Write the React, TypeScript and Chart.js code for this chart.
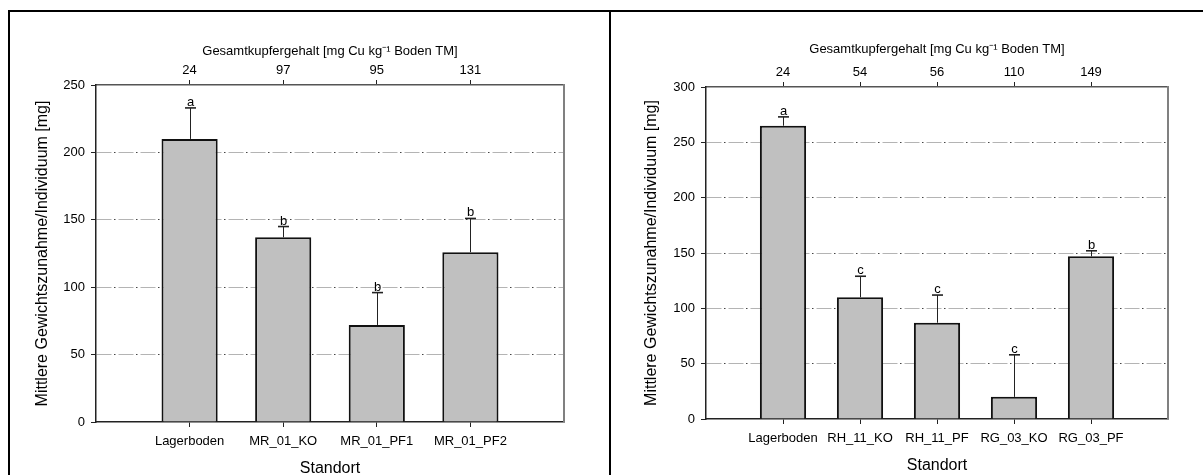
import React, { useEffect, useRef } from 'react';
import { Chart, registerables } from 'chart.js';

Chart.register(...registerables);

const FONT = "'Liberation Sans', Arial, Helvetica, sans-serif";

// ---- data: left panel ----
const leftCategories = ['Lagerboden', 'MR_01_KO', 'MR_01_PF1', 'MR_01_PF2'];
const leftCopper = ['24', '97', '95', '131'];
const leftMeans = [210, 137, 72, 126];
const leftErrors = [23, 8, 24, 25];
const leftLetters = ['a', 'b', 'b', 'b'];
const leftYMax = 250;

// ---- data: right panel ----
const rightCategories = ['Lagerboden', 'RH_11_KO', 'RH_11_PF', 'RG_03_KO', 'RG_03_PF'];
const rightCopper = ['24', '54', '56', '110', '149'];
const rightMeans = [265, 110, 87, 20, 147];
const rightErrors = [8, 19, 25, 38, 5];
const rightLetters = ['a', 'c', 'c', 'c', 'b'];
const rightYMax = 300;

const yTickStep = 50;
const yTitle = 'Mittlere Gewichtszunahme/Individuum [mg]';
const xTitle = 'Standort';
const topTitle = 'Gesamtkupfergehalt [mg Cu kg\u207B\u00B9 Boden TM]';

interface PanelData {
  categories: string[];
  copper: string[];
  means: number[];
  errors: number[];
  letters: string[];
  yMax: number;
}

interface PanelLayout {
  left: number;
  top: number;
  width: number;
  height: number;
  plotLeft: number;
  plotTop: number;
  bottomH: number;
  padRight: number;
  yTitlePad: number;
  topTitlePad: number;
  bottomTitlePad: number;
}

function makeOverlayPlugin(d: PanelData) {
  return {
    id: 'errorBarsOverlay',
    afterDatasetsDraw(chart: any) {
      const { ctx, chartArea } = chart;
      const xs = chart.scales.x;
      const ys = chart.scales.y;
      ctx.save();
      // right frame of the plot
      ctx.strokeStyle = '#808080';
      ctx.lineWidth = 2;
      ctx.beginPath();
      ctx.moveTo(chartArea.right, chartArea.top - 1);
      ctx.lineTo(chartArea.right, chartArea.bottom);
      ctx.stroke();

      d.means.forEach((m, i) => {
        const px = Math.round(xs.getPixelForValue(i + 1)) + 0.5;
        const yBar = ys.getPixelForValue(m);
        const yErr = ys.getPixelForValue(m + d.errors[i]);
        ctx.strokeStyle = '#222';
        ctx.lineWidth = 1;
        ctx.beginPath();
        ctx.moveTo(px, yBar);
        ctx.lineTo(px, yErr);
        ctx.stroke();
        ctx.lineWidth = 1.6;
        ctx.beginPath();
        ctx.moveTo(px - 5.5, yErr);
        ctx.lineTo(px + 5.5, yErr);
        ctx.stroke();
        ctx.fillStyle = '#000';
        ctx.font = `13px ${FONT}`;
        ctx.textAlign = 'center';
        ctx.textBaseline = 'alphabetic';
        ctx.fillText(d.letters[i], px, yErr - 2);
      });
      ctx.restore();
    },
  };
}

function Panel({ d, l }: { d: PanelData; l: PanelLayout }) {
  const ref = useRef<HTMLCanvasElement>(null);
  useEffect(() => {
    const n = d.categories.length;
    const inRange = (c: any) => c.tick && c.tick.value >= 1 && c.tick.value <= n;
    const inner = (c: any) => c.tick && c.tick.value > 0 && c.tick.value < d.yMax;
    const tickFont = { family: FONT, size: 13 };
    const chart = new Chart(ref.current as HTMLCanvasElement, {
      type: 'bar',
      data: {
        datasets: [
          {
            data: d.means.map((v, i) => ({ x: i + 1, y: v })),
            backgroundColor: '#c0c0c0',
            borderColor: '#111',
            borderWidth: 2,
            barPercentage: 0.6,
            categoryPercentage: 1,
          },
        ],
      },
      options: {
        responsive: false,
        animation: false,
        devicePixelRatio: 1,
        layout: { padding: { left: 0, top: 0, right: l.padRight, bottom: 0 } },
        plugins: { legend: { display: false }, tooltip: { enabled: false } },
        scales: {
          x: {
            type: 'linear',
            position: 'bottom',
            min: 0,
            max: n + 1,
            offset: false,
            afterFit: (s: any) => {
              s.height = l.bottomH;
            },
            ticks: {
              stepSize: 1,
              autoSkip: false,
              maxRotation: 0,
              padding: 7,
              color: '#000',
              font: tickFont,
              callback: (v: any) => d.categories[v - 1] ?? '',
            },
            grid: {
              drawOnChartArea: false,
              offset: false,
              tickLength: 5,
              tickWidth: 1,
              tickColor: (c: any) => (inRange(c) ? '#222' : 'rgba(0,0,0,0)'),
            },
            border: { color: '#222', width: 1.5 },
            title: {
              display: true,
              text: xTitle,
              color: '#000',
              font: { family: FONT, size: 16 },
              padding: { top: 0, bottom: l.bottomTitlePad },
            },
          },
          xTop: {
            type: 'linear',
            position: 'top',
            min: 0,
            max: n + 1,
            offset: false,
            afterFit: (s: any) => {
              s.height = l.plotTop;
            },
            ticks: {
              stepSize: 1,
              autoSkip: false,
              maxRotation: 0,
              padding: 2,
              color: '#000',
              font: tickFont,
              callback: (v: any) => d.copper[v - 1] ?? '',
            },
            grid: {
              drawOnChartArea: false,
              offset: false,
              tickLength: 5,
              tickWidth: 1,
              tickColor: (c: any) => (inRange(c) ? '#222' : 'rgba(0,0,0,0)'),
            },
            border: { color: '#555', width: 1.5 },
            title: {
              display: true,
              text: topTitle,
              color: '#000',
              font: { family: FONT, size: 13 },
              padding: { top: l.topTitlePad, bottom: 0 },
            },
          },
          yDots: {
            type: 'linear',
            position: 'left',
            min: 0,
            max: d.yMax,
            afterFit: (s: any) => {
              s.width = 0;
            },
            ticks: { stepSize: yTickStep, display: false },
            grid: {
              color: (c: any) => (inner(c) ? '#444' : 'rgba(0,0,0,0)'),
              lineWidth: 1,
              drawTicks: false,
            },
            border: { display: false, dash: [1.5, 20.5], dashOffset: 4 },
          },
          y: {
            type: 'linear',
            position: 'left',
            min: 0,
            max: d.yMax,
            afterFit: (s: any) => {
              s.width = l.plotLeft;
            },
            ticks: { stepSize: yTickStep, padding: 6, color: '#000', font: tickFont },
            grid: {
              color: (c: any) => (inner(c) ? '#b4b4b4' : 'rgba(0,0,0,0)'),
              lineWidth: 1,
              tickLength: 5,
              tickWidth: 1,
              tickColor: '#222',
              tickBorderDash: [],
            },
            border: { color: '#222', width: 1.5, dash: [15, 7] },
            title: {
              display: true,
              text: yTitle,
              color: '#000',
              font: { family: FONT, size: 16 },
              padding: { top: l.yTitlePad, bottom: 0 },
            },
          },
        },
      } as any,
      plugins: [makeOverlayPlugin(d)],
    });
    return () => chart.destroy();
  }, []);
  return (
    <canvas
      ref={ref}
      width={l.width}
      height={l.height}
      style={{ position: 'absolute', left: l.left, top: l.top, width: l.width, height: l.height }}
    />
  );
}

const leftData: PanelData = {
  categories: leftCategories,
  copper: leftCopper,
  means: leftMeans,
  errors: leftErrors,
  letters: leftLetters,
  yMax: leftYMax,
};
const rightData: PanelData = {
  categories: rightCategories,
  copper: rightCopper,
  means: rightMeans,
  errors: rightErrors,
  letters: rightLetters,
  yMax: rightYMax,
};

const leftLayout: PanelLayout = {
  left: 10,
  top: 12,
  width: 599,
  height: 463,
  plotLeft: 86,
  plotTop: 73,
  bottomH: 53,
  padRight: 45,
  yTitlePad: 23.4,
  topTitlePad: 32,
  bottomTitlePad: -3,
};
const rightLayout: PanelLayout = {
  left: 611,
  top: 12,
  width: 592,
  height: 463,
  plotLeft: 95,
  plotTop: 75,
  bottomH: 56,
  padRight: 35,
  yTitlePad: 31.4,
  topTitlePad: 30,
  bottomTitlePad: 0,
};

export default function App() {
  return (
    <div
      style={{
        position: 'absolute',
        left: 0,
        top: 0,
        width: 1203,
        height: 475,
        overflow: 'hidden',
        background: '#fff',
      }}
    >
      <Panel d={leftData} l={leftLayout} />
      <Panel d={rightData} l={rightLayout} />
      <div
        style={{
          position: 'absolute',
          left: 8,
          top: 10,
          width: 1400,
          height: 700,
          borderLeft: '2px solid #000',
          borderTop: '2px solid #000',
          boxSizing: 'border-box',
          pointerEvents: 'none',
        }}
      />
      <div style={{ position: 'absolute', left: 609, top: 10, width: 2, height: 700, background: '#000' }} />
    </div>
  );
}
